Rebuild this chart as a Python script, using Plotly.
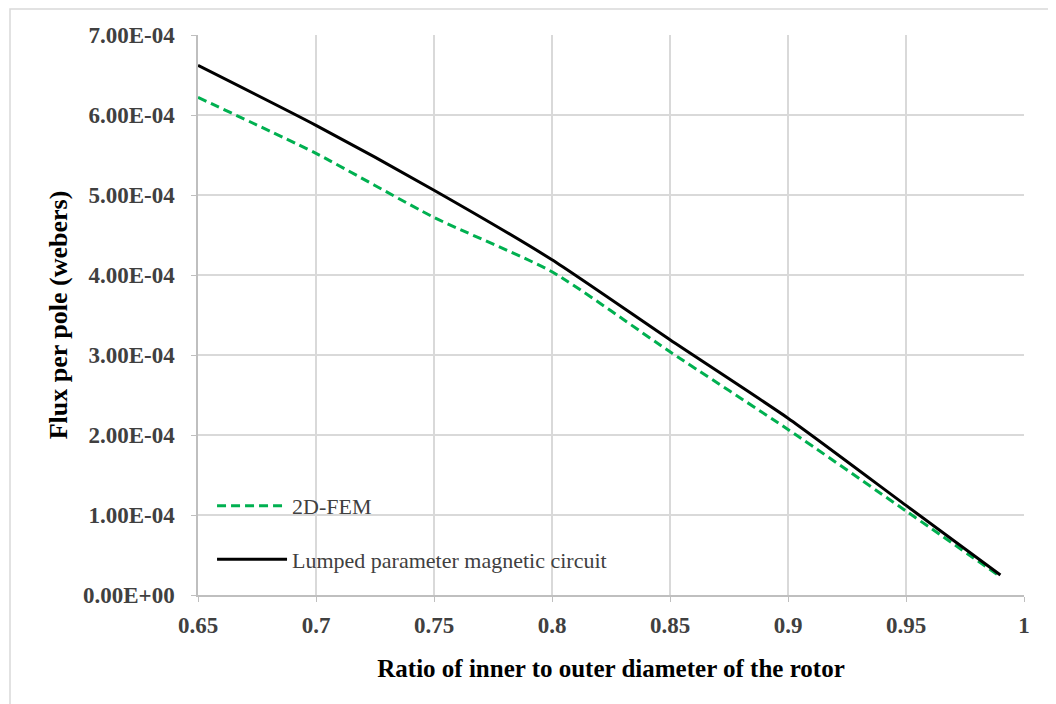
import plotly.graph_objects as go

ratio = [0.65, 0.70, 0.75, 0.80, 0.85, 0.90, 0.95, 0.99]
fem_flux = [6.22e-4, 5.52e-4, 4.72e-4, 4.04e-4, 3.04e-4, 2.07e-4, 1.05e-4, 0.23e-4]
lumped_flux = [6.62e-4, 5.87e-4, 5.06e-4, 4.19e-4, 3.19e-4, 2.21e-4, 1.12e-4, 0.25e-4]

y_tickvals = [0, 1e-4, 2e-4, 3e-4, 4e-4, 5e-4, 6e-4, 7e-4]
y_ticktext = ["0.00E+00", "1.00E-04", "2.00E-04", "3.00E-04", "4.00E-04", "5.00E-04", "6.00E-04", "7.00E-04"]
x_tickvals = [0.65, 0.7, 0.75, 0.8, 0.85, 0.9, 0.95, 1.0]
x_ticktext = ["0.65", "0.7", "0.75", "0.8", "0.85", "0.9", "0.95", "1"]

serif = "Liberation Serif, Times New Roman, serif"

fig = go.Figure()
fig.add_trace(go.Scatter(
    x=ratio, y=fem_flux, mode="lines", name="2D-FEM", legendgroup="a",
    line=dict(color="#00b050", width=3, dash="9px,5px", shape="spline", smoothing=0.6),
))
fig.add_trace(go.Scatter(
    x=ratio, y=lumped_flux, mode="lines", name="Lumped parameter magnetic circuit", legendgroup="b",
    line=dict(color="#000000", width=3, shape="spline", smoothing=0.6),
))

fig.update_layout(
    width=1056, height=704,
    margin=dict(l=190, r=40, t=27, b=117),
    paper_bgcolor="white", plot_bgcolor="white",
    font=dict(family=serif, color="#404040"),
    legend=dict(
        x=0.017, y=0.111, xanchor="left", yanchor="middle",
        bgcolor="rgba(0,0,0,0)", font=dict(family=serif, size=22, color="#404040"),
        tracegroupgap=22, itemwidth=70,
    ),
    shapes=[dict(type="rect", xref="paper", yref="paper",
                 x0=-0.2276, x1=1.0339, y0=-0.2, y1=1.0464,
                 line=dict(color="#d9d9d9", width=1.5), layer="below")],
)

fig.update_xaxes(
    range=[0.65, 1.0], tickvals=x_tickvals, ticktext=x_ticktext,
    showgrid=True, gridcolor="#d9d9d9", gridwidth=1.5,
    showline=True, linecolor="#bfbfbf", linewidth=1.5,
    ticks="outside", ticklen=5, tickcolor="#bfbfbf",
    tickfont=dict(family=serif, size=23, color="#404040", weight="bold"),
    ticklabelstandoff=4,
    title=dict(text="<b>Ratio of inner to outer diameter of the rotor</b>",
               font=dict(family=serif, size=25, color="#000000"), standoff=22),
    zeroline=False,
)
fig.update_yaxes(
    range=[0, 7e-4], tickvals=y_tickvals, ticktext=y_ticktext,
    showgrid=True, gridcolor="#d9d9d9", gridwidth=1.5,
    showline=True, linecolor="#bfbfbf", linewidth=1.5,
    ticks="outside", ticklen=5, tickcolor="#bfbfbf",
    tickfont=dict(family=serif, size=23, color="#404040", weight="bold"),
    ticklabelstandoff=12,
    title=dict(text="<b>Flux per pole (webers)</b>",
               font=dict(family=serif, size=26, color="#000000"), standoff=8),
    zeroline=False,
)

fig.write_html("out.html")
